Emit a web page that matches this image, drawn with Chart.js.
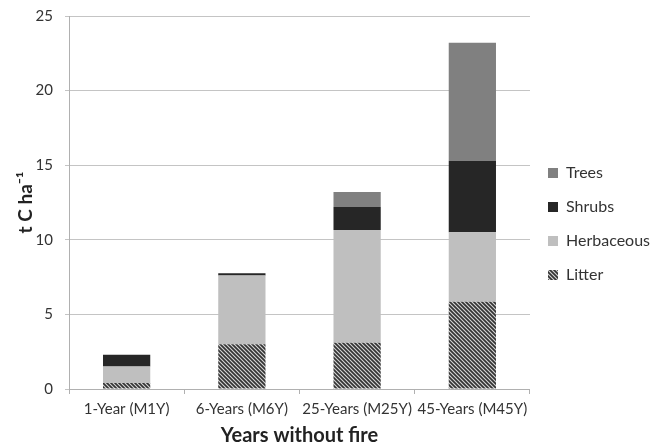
<!DOCTYPE html>
<html>
<head>
<meta charset="utf-8">
<script src="https://cdn.jsdelivr.net/npm/chart.js@4.4.0/dist/chart.umd.min.js"></script>
<style>
  html, body { margin: 0; padding: 0; background: #fff; }
  #wrap { width: 660px; height: 448px; }
</style>
</head>
<body>
<div id="wrap"><canvas id="carbonChart"></canvas></div>
<script>
// categories and stacked values (t C ha-1)
var categories = ['1-Year (M1Y)', '6-Years (M6Y)', '25-Years (M25Y)', '45-Years (M45Y)'];
var litter = [0.4, 3.0, 3.1, 5.85];
var herbaceous = [1.1, 4.6, 7.55, 4.65];
var shrubs = [0.8, 0.15, 1.55, 4.8];
var trees = [0, 0, 1.0, 7.9];
var yTicks = [0, 5, 10, 15, 20, 25];

// hatch for litter
function makeHatch() {
    var c = document.createElement('canvas');
    c.width = 4; c.height = 4;
    var g = c.getContext('2d');
    g.fillStyle = '#d4d4d4';
    g.fillRect(0, 0, 4, 4);
    g.strokeStyle = '#333';
    g.lineWidth = 1.7;
    g.beginPath();
    g.moveTo(-1, -1); g.lineTo(5, 5);
    g.moveTo(-1, 3); g.lineTo(1, 5);
    g.moveTo(3, -1); g.lineTo(5, 1);
    g.stroke();
    return g.createPattern(c, 'repeat');
}
var hatch = makeHatch();

var fontFam = 'Lato, "Open Sans", sans-serif';

new Chart(document.getElementById('carbonChart'), {
    type: 'bar',
    data: {
        labels: categories,
        datasets: [
            { label: 'Litter', data: litter, backgroundColor: hatch },
            { label: 'Herbaceous', data: herbaceous, backgroundColor: '#bfbfbf' },
            { label: 'Shrubs', data: shrubs, backgroundColor: '#262626' },
            { label: 'Trees', data: trees, backgroundColor: '#808080' }
        ]
    },
    options: {
        responsive: true,
        maintainAspectRatio: false,
        animation: false,
        datasets: { bar: { categoryPercentage: 1.0, barPercentage: 0.41, borderWidth: 0 } },
        layout: { padding: 0 },
        plugins: {
            tooltip: { enabled: false },
            legend: {
                position: 'right',
                reverse: true,
                labels: {
                    boxWidth: 10,
                    boxHeight: 10,
                    padding: 18,
                    color: '#333',
                    font: { family: fontFam, size: 16 }
                }
            }
        },
        scales: {
            x: {
                stacked: true,
                grid: { drawOnChartArea: false, drawTicks: true, tickLength: 5, color: '#b0b0b0', offset: true },
                border: { color: '#b0b0b0' },
                ticks: { color: '#333', font: { family: fontFam, size: 15 }, padding: 6, maxRotation: 0 },
                title: { display: true, text: 'Years without fire', color: '#222', font: { family: fontFam, size: 20, weight: 'bold' }, padding: { top: 0, bottom: 0 } },
                afterFit: function (scale) { scale.height = 59; }
            },
            y: {
                stacked: true,
                min: 0,
                max: 25,
                afterBuildTicks: function (scale) { scale.ticks = yTicks.map(function (v) { return { value: v }; }); },
                grid: { color: '#c4c4c4', tickLength: 4 },
                border: { color: '#b0b0b0' },
                ticks: { color: '#333', font: { family: fontFam, size: 15 }, padding: 12 },
                title: { display: true, text: 't C ha\u207B\u00B9', color: '#222', font: { family: fontFam, size: 19, weight: 'bold' }, padding: { top: 14, bottom: 0 } },
                afterFit: function (scale) {
                    scale.width = 69;
                    scale.paddingTop = 16;
                    scale.paddingBottom = 0;
                }
            }
        }
    }
});
</script>
</body>
</html>
